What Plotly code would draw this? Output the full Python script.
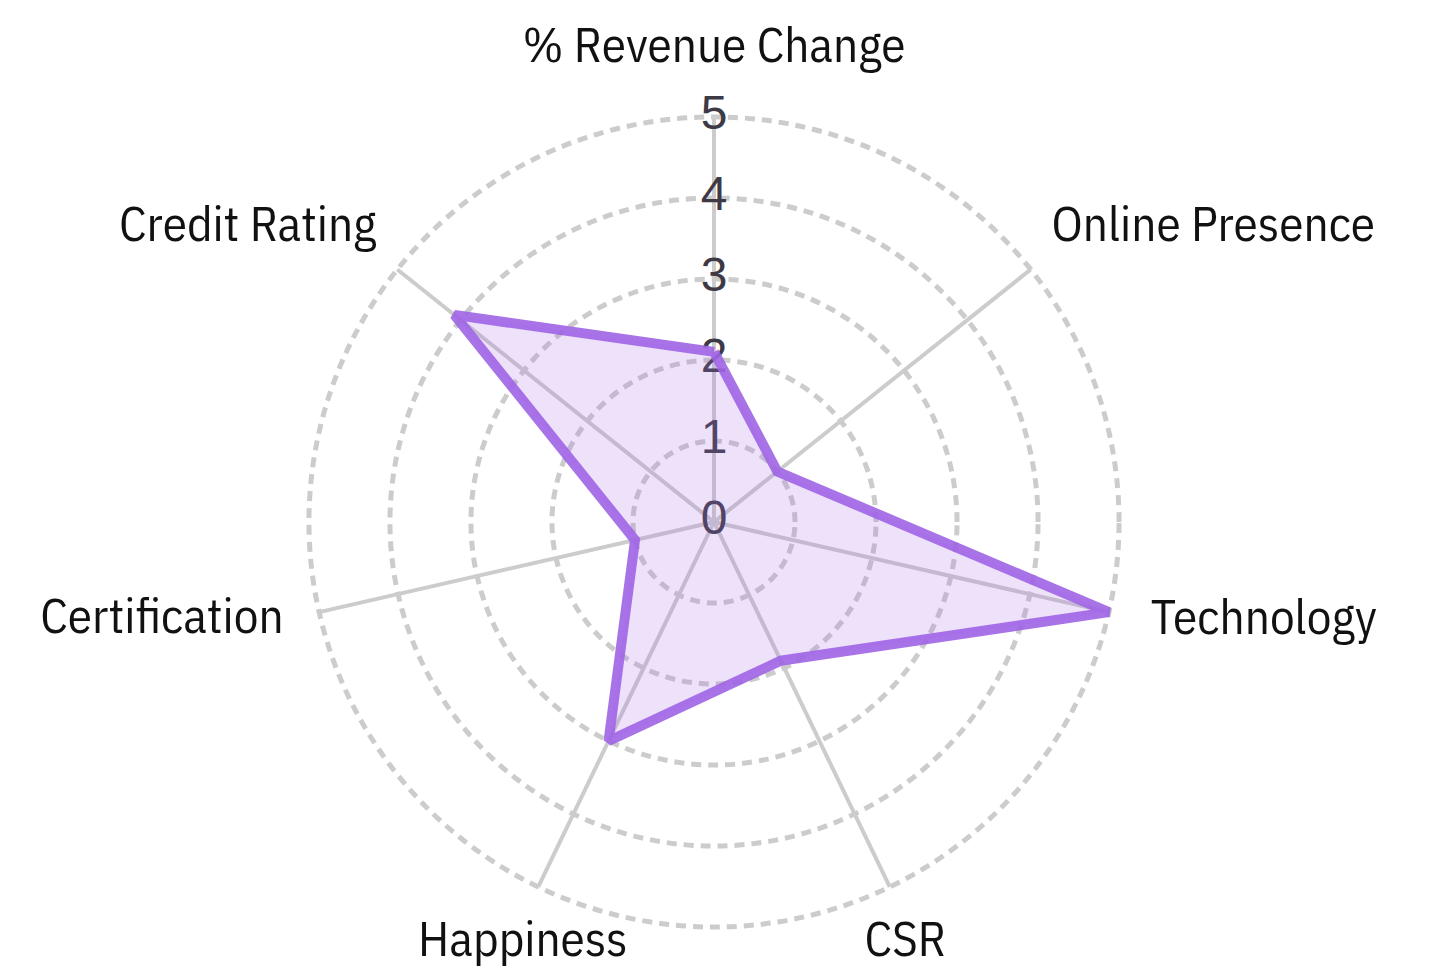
import plotly.graph_objects as go

# Radar chart: company scorecard across seven dimensions
categories = ["% Revenue Change", "Online Presence", "Technology", "CSR",
              "Happiness", "Certification", "Credit Rating"]
scores = [2.1, 1.0, 5.0, 1.9, 3.0, 1.0, 4.1]
radial_ticks = [0, 1, 2, 3, 4, 5]
scale_max = 5

# anchor radius and text position of each category name
label_radius = [5.53, 5.33, 5.53, 5.44, 5.44, 5.45, 5.33]
label_anchor = ["top center", "top right", "middle right", "bottom center",
                "bottom center", "middle left", "top left"]

LABEL_FONT = "IBM Plex Sans Condensed, Liberation Sans Narrow, DejaVu Sans Condensed, sans-serif"
TICK_FONT = "Liberation Sans, Arial, sans-serif"
GRID = "#cccccc"

fig = go.Figure()

# spokes from the centre to the outer ring
spoke_r, spoke_theta = [], []
for cat in categories:
    spoke_r += [0, scale_max, None]
    spoke_theta += [cat, cat, None]
fig.add_trace(go.Scatterpolar(
    r=spoke_r,
    theta=spoke_theta,
    mode="lines",
    line=dict(color=GRID, width=4),
    hoverinfo="skip",
    showlegend=False,
))

# radial tick numbers centred on the first spoke
fig.add_trace(go.Scatterpolar(
    r=radial_ticks,
    theta=[categories[0]] * len(radial_ticks),
    mode="text",
    text=[str(v) for v in radial_ticks],
    textposition="middle center",
    textfont=dict(family=TICK_FONT, size=48, color="#3d3a45"),
    hoverinfo="skip",
    showlegend=False,
))

# closed polygon of scores
fig.add_trace(go.Scatterpolar(
    r=scores + scores[:1],
    theta=categories + categories[:1],
    mode="lines",
    fill="toself",
    fillcolor="rgba(166,110,232,0.2)",
    line=dict(color="rgba(160,100,230,0.9)", width=10),
    showlegend=False,
))

# category names
fig.add_trace(go.Scatterpolar(
    r=label_radius,
    theta=categories,
    mode="text",
    text=categories,
    textposition=label_anchor,
    textfont=dict(family=LABEL_FONT, size=49, color="#111111"),
    cliponaxis=False,
    hoverinfo="skip",
    showlegend=False,
))

fig.update_layout(
    width=1435,
    height=970,
    margin=dict(l=0, r=7, t=74, b=0),
    paper_bgcolor="white",
    plot_bgcolor="white",
    polar=dict(
        bgcolor="white",
        radialaxis=dict(
            range=[0, 5.53],
            tickvals=[1, 2, 3, 4, 5],
            showticklabels=False,
            ticks="",
            showline=False,
            gridcolor=GRID,
            gridwidth=5,
            griddash="10px,7px",
        ),
        angularaxis=dict(
            rotation=90,
            direction="clockwise",
            showline=False,
            showgrid=False,
            showticklabels=False,
            ticks="",
        ),
    ),
)

fig.write_html("out.html")
